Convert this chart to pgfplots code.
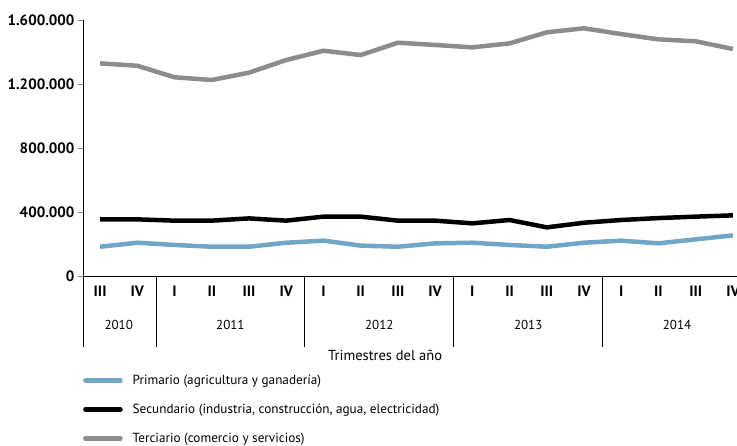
\documentclass[border=0pt]{standalone}
\usepackage{pgfplots}
\pgfplotsset{compat=1.18}
\usepackage{fontspec}
\setmainfont{PT Sans}
\definecolor{prim}{RGB}{112,166,199}
\definecolor{terc}{RGB}{140,140,140}

\begin{document}
\begin{tikzpicture}[x=1pt,y=1pt]
\path[use as bounding box] (0,0) rectangle (737,445);
\begin{axis}[
    at={(83pt,169pt)}, anchor=south west,
    scale only axis, width=654pt, height=256pt,
    xmin=-0.46, xmax=17.11, ymin=0, ymax=1600000,
    clip=false,
    axis x line*=bottom, axis y line*=left,
    axis line style={-, line width=0.8pt},
    ytick={0,400000,800000,1200000,1600000},
    yticklabels={0,400.000,800.000,1.200.000,1.600.000},
    scaled y ticks=false,
    y tick label style={font=\bfseries\fontsize{15}{15}\selectfont},
    ytick style={line width=0.8pt},
    major tick length=5pt,
    tick align=outside,
    xtick={0,...,17},
    xticklabels={III,IV,I,II,III,IV,I,II,III,IV,I,II,III,IV,I,II,III,IV},
    x tick style={draw=none},
    x tick label style={font=\bfseries\fontsize{15}{15}\selectfont, anchor=center, yshift=-10pt},
    xlabel={Trimestres del año},
    xlabel style={at={(axis description cs:0.462,-0.309)}, anchor=center, font=\fontsize{14.5}{14.5}\selectfont},
    legend style={at={(axis description cs:0,-0.378)}, anchor=north west, draw=none, fill=none,
        font=\fontsize{13.2}{14}\selectfont, row sep=14pt, column sep=8pt, inner sep=0pt},
    legend cell align=left,
    legend image code/.code={\draw[#1, line cap=round] (0pt,0pt) -- (35pt,0pt);},
]
\addplot[prim, line width=4.5pt, line join=round] coordinates {
(0,183000) (1,208000) (2,194000) (3,183000) (4,183000) (5,208000)
(6,221000) (7,190000) (8,183000) (9,204000) (10,208000) (11,194000)
(12,183000) (13,208000) (14,221000) (15,204000) (16,229000) (17,254000)};
\addlegendentry{Primario (agricultura y ganadería)}
\addplot[black, line width=4.5pt, line join=round] coordinates {
(0,354000) (1,354000) (2,346000) (3,346000) (4,360000) (5,346000)
(6,371000) (7,371000) (8,346000) (9,346000) (10,329000) (11,350000)
(12,304000) (13,333000) (14,350000) (15,362000) (16,371000) (17,379000)};
\addlegendentry{Secundario (industria, construcción, agua, electricidad)}
\addplot[terc, line width=4.5pt, line join=round] coordinates {
(0,1329000) (1,1314000) (2,1242000) (3,1225000) (4,1271000) (5,1350000)
(6,1408000) (7,1381000) (8,1458000) (9,1444000) (10,1429000) (11,1454000)
(12,1523000) (13,1548000) (14,1512000) (15,1479000) (16,1467000) (17,1419000)};
\addlegendentry{Terciario (comercio y servicios)}
% year separators and labels
\draw[line width=0.8pt] (axis cs:-0.46,0) -- ++(0pt,-71pt);
\draw[line width=0.8pt] (axis cs:1.5,0) -- ++(0pt,-71pt);
\draw[line width=0.8pt] (axis cs:5.5,0) -- ++(0pt,-71pt);
\draw[line width=0.8pt] (axis cs:9.5,0) -- ++(0pt,-71pt);
\draw[line width=0.8pt] (axis cs:13.5,0) -- ++(0pt,-71pt);
\node[font=\fontsize{13}{13}\selectfont, yshift=-49pt] at (axis cs:0.5,0) {2010};
\node[font=\fontsize{13}{13}\selectfont, yshift=-49pt] at (axis cs:3.5,0) {2011};
\node[font=\fontsize{13}{13}\selectfont, yshift=-49pt] at (axis cs:7.5,0) {2012};
\node[font=\fontsize{13}{13}\selectfont, yshift=-49pt] at (axis cs:11.5,0) {2013};
\node[font=\fontsize{13}{13}\selectfont, yshift=-49pt] at (axis cs:15.5,0) {2014};
\end{axis}
\end{tikzpicture}
\end{document}
